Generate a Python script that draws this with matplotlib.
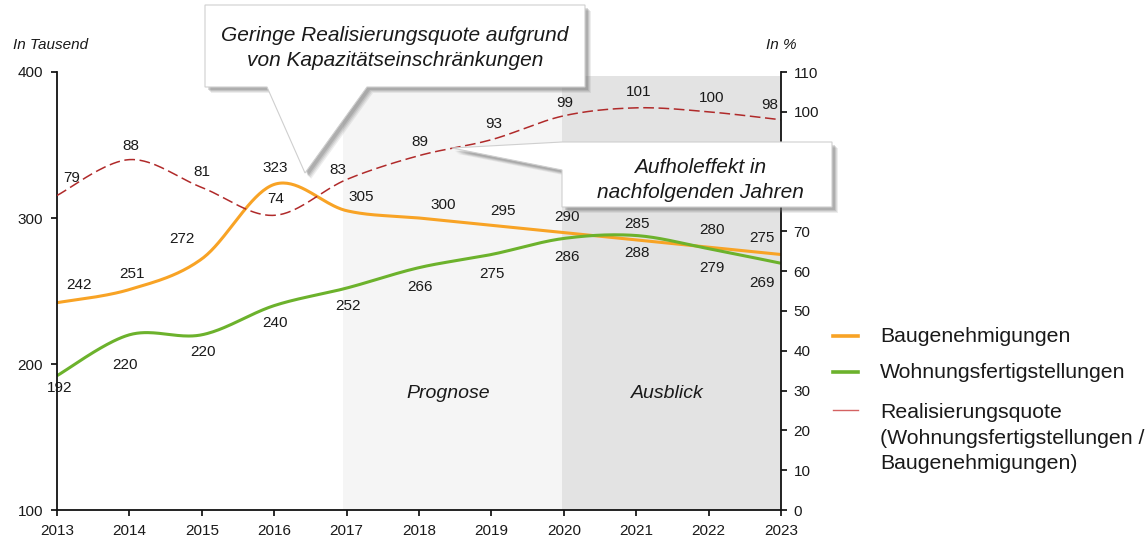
import numpy as np
import matplotlib.pyplot as plt
from matplotlib.patches import Polygon
from matplotlib.lines import Line2D

plt.rcParams['font.family'] = ['Liberation Sans', 'DejaVu Sans']

# Werte (Tausend Wohnungen bzw. Prozent)
jahre = [2013, 2014, 2015, 2016, 2017, 2018, 2019, 2020, 2021, 2022, 2023]
baugenehmigungen = [242, 251, 272, 323, 305, 300, 295, 290, 285, 280, 275]
fertigstellungen = [192, 220, 220, 240, 252, 266, 275, 286, 288, 279, 269]
quote = [79, 88, 81, 74, 83, 89, 93, 99, 101, 100, 98]

# Versatz der Beschriftungen in Pixeln (dx, dy)
off_bau = [(22, 18), (3, 16), (-20, 20), (1, 16), (15, 14), (24, 13),
           (12, 14), (3, 16), (1, 16), (3, 17), (-19, 16)]
off_fert = [(3, -12), (-4, -30), (1, -17), (1, -17), (1, -18), (1, -19),
            (1, -19), (3, -19), (1, -17), (3, -19), (-19, -20)]
off_quote = [(15, 17), (1, 14), (0, 15), (1, 16), (-9, 10), (1, 14),
             (2, 16), (1, 13), (2, 16), (3, 14), (-11, 15)]

ORANGE = '#f8a325'
GRUEN = '#6cb22c'
ROT = '#b02a2a'
TXT = '#1a1a1a'

W, H = 1148, 541


def px(x, y):
    # Pixelkoordinaten (y von oben) -> Figurenkoordinaten
    return (x / W, 1 - y / H)


def glatt(x, y, n=40):
    """Geglättete Linie wie in Excel (Bezier mit Nachbarpunkten)"""
    P = np.column_stack([np.asarray(x, float), np.asarray(y, float)])
    t = np.linspace(0, 1, n)[:, None]
    teile = []
    for i in range(len(P) - 1):
        p0 = P[i]
        p3 = P[i + 1]
        vor = P[max(i - 1, 0)]
        nach = P[min(i + 2, len(P) - 1)]
        c1 = p0 + (p3 - vor) / 6
        c2 = p3 - (nach - p0) / 6
        b = ((1 - t) ** 3) * p0 + 3 * ((1 - t) ** 2) * t * c1 + 3 * (1 - t) * t ** 2 * c2 + t ** 3 * p3
        teile.append(b if i == 0 else b[1:])
    b = np.vstack(teile)
    return b[:, 0], b[:, 1]


fig = plt.figure(figsize=(W / 100, H / 100), dpi=100)
ax = fig.add_axes([57 / W, 31 / H, 724 / W, 438 / H])
ax2 = ax.twinx()

ax.set_xlim(2013, 2023)
ax.set_ylim(100, 400)
ax2.set_ylim(0, 110)

# Bereiche Prognose / Ausblick
oben = (397 - 100) / 300
ax.axvspan(2016.95, 2019.97, ymin=0, ymax=oben, color='#f5f5f5', lw=0, zorder=0)
ax.axvspan(2019.97, 2023, ymin=0, ymax=oben, color='#e3e3e3', lw=0, zorder=0)
ax.text(2018.4, 180, 'Prognose', fontsize=14, style='italic', color=TXT, ha='center', va='center')
ax.text(2021.43, 180, 'Ausblick', fontsize=14, style='italic', color=TXT, ha='center', va='center')

xs, ys = glatt(jahre, baugenehmigungen)
ax.plot(xs, ys, color=ORANGE, lw=2.2, solid_capstyle='butt')
xs, ys = glatt(jahre, fertigstellungen)
ax.plot(xs, ys, color=GRUEN, lw=2.2, solid_capstyle='butt')
xs, ys = glatt(jahre, quote)
ax2.plot(xs, ys, color=ROT, lw=1.1, dashes=(7, 3))

for x, v, (dx, dy) in zip(jahre, baugenehmigungen, off_bau):
    ax.annotate(str(v), (x, v), xytext=(dx, dy), textcoords='offset pixels',
                ha='center', va='center', fontsize=11, color=TXT)
for x, v, (dx, dy) in zip(jahre, fertigstellungen, off_fert):
    ax.annotate(str(v), (x, v), xytext=(dx, dy), textcoords='offset pixels',
                ha='center', va='center', fontsize=11, color=TXT)
for x, v, (dx, dy) in zip(jahre, quote, off_quote):
    ax2.annotate(str(v), (x, v), xytext=(dx, dy), textcoords='offset pixels',
                 ha='center', va='center', fontsize=11, color=TXT)

# Achsen
for a in (ax, ax2):
    a.spines['top'].set_visible(False)
    for s in a.spines.values():
        s.set_linewidth(1.3)
        s.set_color('#111111')
ax.spines['right'].set_visible(False)
ax2.spines['left'].set_visible(False)
ax2.spines['bottom'].set_visible(False)

ax.set_xticks(jahre)
ax.set_yticks([100, 200, 300, 400])
rechts = list(range(0, 111, 10))
ax2.set_yticks(rechts)
# 80 und 90 liegen unter der Sprechblase
ax2.set_yticklabels(['' if v in (80, 90) else str(v) for v in rechts])
ax.tick_params(axis='x', direction='out', length=4, width=1.3, pad=6, labelsize=11, colors=TXT)
ax.tick_params(axis='y', direction='out', length=4, width=1.3, pad=6, labelsize=11, colors=TXT)
ax2.tick_params(axis='y', direction='out', length=4, width=1.3, pad=5, labelsize=11, colors=TXT)

fig.text(*px(51, 45), 'In Tausend', fontsize=11, style='italic', ha='center', va='center', color=TXT)
fig.text(*px(781, 45), 'In %', fontsize=11, style='italic', ha='center', va='center', color=TXT)


def sprechblase(punkte, text_pos, text):
    for off, al in ((6, 0.12), (5, 0.15), (4, 0.2), (3, 0.25)):
        schatten = [px(x + off, y + off) for x, y in punkte]
        fig.add_artist(Polygon(schatten, closed=True, transform=fig.transFigure,
                               facecolor='#707070', edgecolor='none', alpha=al, zorder=10))
    fig.add_artist(Polygon([px(x, y) for x, y in punkte], closed=True, transform=fig.transFigure,
                           facecolor='white', edgecolor='#cfcfcf', lw=0.8, zorder=11))
    fig.text(*px(*text_pos), text, fontsize=15, style='italic', ha='center', va='center',
             color=TXT, linespacing=1.36, zorder=12)


sprechblase([(205, 5), (585, 5), (585, 87), (367, 87), (305, 173), (267, 87), (205, 87)],
            (395, 48), 'Geringe Realisierungsquote aufgrund\nvon Kapazitätseinschränkungen')
sprechblase([(452, 148), (562, 142), (832, 142), (832, 207), (562, 207), (562, 170)],
            (700, 180), 'Aufholeffekt in\nnachfolgenden Jahren')

# Legende
fig.add_artist(Line2D([833 / W, 858 / W], [1 - 336 / H] * 2, transform=fig.transFigure, color=ORANGE, lw=2.6))
fig.add_artist(Line2D([833 / W, 858 / W], [1 - 372 / H] * 2, transform=fig.transFigure, color=GRUEN, lw=2.6))
fig.add_artist(Line2D([833 / W, 858 / W], [1 - 410 / H] * 2, transform=fig.transFigure, color='#d46262', lw=1.0))
fig.text(*px(880, 336), 'Baugenehmigungen', fontsize=15.3, va='center', ha='left', color=TXT)
fig.text(*px(880, 372), 'Wohnungsfertigstellungen', fontsize=15.3, va='center', ha='left', color=TXT)
fig.text(*px(880, 438), 'Realisierungsquote\n(Wohnungsfertigstellungen /\nBaugenehmigungen)',
         fontsize=15.3, va='center', ha='left', color=TXT, linespacing=1.45)

fig.savefig('out.png', dpi=100)
